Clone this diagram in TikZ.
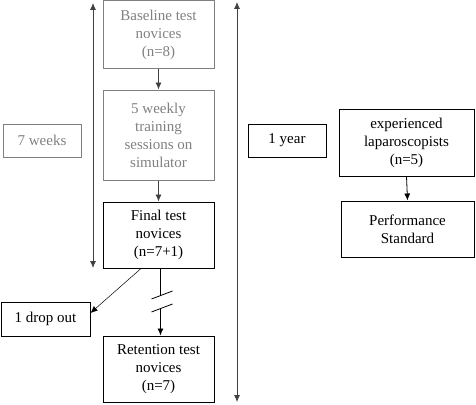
\documentclass[tikz,border=0pt]{standalone}
\usepackage{fontspec}
\setmainfont{Liberation Serif}
\usetikzlibrary{arrows.meta}

\tikzset{
  greybox/.style={draw=gray,line width=1pt,text=gray,align=center,inner sep=0pt,
    font=\fontsize{15}{18}\selectfont},
  blackbox/.style={draw=black,line width=1pt,align=center,inner sep=0pt,
    font=\fontsize{15}{18}\selectfont},
}

\begin{document}
\begin{tikzpicture} [x=1pt,y=-1pt,>={Latex[length=7pt,width=6pt]},line width=0.8pt]
                    \useasboundingbox (0,0) rectangle (476,404);
                    % Nodes
                    \node[greybox,minimum width=111pt,minimum height=67pt] (base) at (158.5,34.5) {Baseline test\\novices\\(n=8)};
                    \node[greybox,minimum width=111pt,minimum height=90pt] (train) at (158.5,135) {5 weekly\\training\\sessions on\\simulator};
                    \node[greybox,minimum width=78pt,minimum height=33pt] (weeks) at (42,140.5) {7 weeks};
                    \node[blackbox,minimum width=111pt,minimum height=66pt] (final) at (158.5,235) {Final test\\novices\\(n=7+1)};
                    \node[blackbox,minimum width=89pt,minimum height=34pt] (drop) at (45.5,319) {1 drop out};
                    \node[blackbox,minimum width=111pt,minimum height=66pt] (ret) at (158.5,369) {Retention test\\novices\\(n=7)};
                    \node[blackbox,minimum width=78pt,minimum height=33pt] (year) at (287,140.5) {1 year};
                    \node[blackbox,minimum width=135pt,minimum height=67pt] (exp) at (406.5,142.5) {experienced\\laparoscopists\\(n=5)};
                    \node[blackbox,minimum width=133pt,minimum height=56pt] (perf) at (407.5,229) {Performance\\Standard};

                    % Time axes
                    \coordinate (wtop) at (93,3);
                    \coordinate (wbot) at (93,268);
                    \coordinate (ytop) at (237,2);
                    \coordinate (ybot) at (237,402);
                    \draw[<->,black!75] (wtop) -- (wbot);
                    \draw[<->,black!75] (ytop) -- (ybot);

                    % Arrows
                    \draw[->,black!75] (base.south) -- (train.north);
                    \draw[->,black!75] (train.south) -- (final.north);
                    \draw[->] (exp.south) -- (perf.north);
                    \draw[->,line width=0.5pt] (final.south west) ++(38.5,0) coordinate (dstart) -- ([yshift=6pt]drop.east);

                    % Interrupted arrow
                    \coordinate (bstart) at ([xshift=2pt]final.south);
                    \coordinate (bend) at ([xshift=2pt]ret.north);
                    \coordinate (b1) at (160.5,295);
                    \coordinate (b2) at (160.5,308);
                    \draw (bstart) -- (b1);
                    \draw[->] (b2) -- (bend);
                    \draw ([shift={(-9,4)}]b1) -- ([shift={(12,-4)}]b1);
                    \draw ([shift={(-9,4)}]b2) -- ([shift={(12,-4)}]b2);
                \end{tikzpicture}
\end{document}
